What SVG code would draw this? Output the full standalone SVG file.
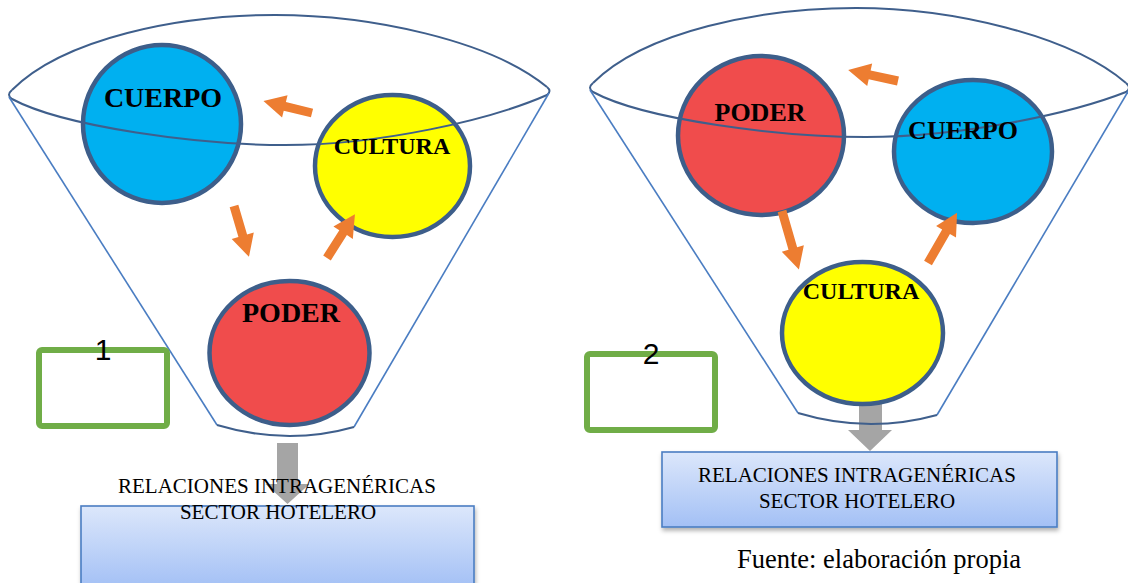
<svg xmlns="http://www.w3.org/2000/svg" width="1128" height="583" viewBox="0 0 1128 583">
  <style>
    .circle { stroke: #3D5E8A; stroke-width: 4.5; }
    .blue { fill: #00B0F0; }
    .yellow { fill: #FFFF00; }
    .red { fill: #F04C4C; }
    .lbl { font-family: "Liberation Serif", "Times New Roman", serif; font-weight: bold; fill: #000; text-anchor: middle; }
    .rim { fill: none; stroke: #3F5F8C; stroke-width: 2; stroke-linejoin: round; }
    .side { fill: none; stroke: #4A7DC2; stroke-width: 1.6; }
    .oarr { fill: #ED7D31; }
    .garr { fill: #A5A5A5; }
    .gbox { fill: #FFFFFF; stroke: #70AD47; stroke-width: 6; }
    .num { font-family: "Liberation Sans", Arial, sans-serif; font-size: 30px; fill: #000; text-anchor: middle; }
    .result { fill: url(#boxGrad); stroke: #4A7DC2; stroke-width: 1.6; filter: url(#shadow); }
    .rtxt { font-family: "Liberation Serif", "Times New Roman", serif; font-size: 21px; fill: #000; text-anchor: middle; }
    .src { font-family: "Liberation Serif", "Times New Roman", serif; font-size: 26.5px; fill: #000; text-anchor: middle; }
  </style>
  <defs>
    <linearGradient id="boxGrad" x1="0" y1="0" x2="0" y2="1">
      <stop offset="0" stop-color="#DCE7FB"/>
      <stop offset="1" stop-color="#A3C0F5"/>
    </linearGradient>
    <filter id="shadow" x="-5%" y="-10%" width="110%" height="130%">
      <feDropShadow dx="1" dy="3" stdDeviation="2" flood-color="#000" flood-opacity="0.3"/>
    </filter>
  </defs>

  <!-- Funnel 1 -->
  <g id="funnel1">
    <!-- output arrow below the funnel -->
    <path class="garr" d="M277 443 H298 V484 H309.5 L287.5 504 L265.5 484 H277 Z"/>
    <g id="cuerpo1">
      <circle class="circle blue" cx="162" cy="124" r="79"/>
    </g>
    <g id="cultura1">
      <ellipse class="circle yellow" cx="392.5" cy="166" rx="77.5" ry="71"/>
    </g>
    <g id="poder1">
      <ellipse class="circle red" cx="289.5" cy="353" rx="80" ry="72"/>
    </g>
    <path class="rim" d="M12 90 C64 38 180 15 275 15 C370 15 490 40 547 87"/>
    <path class="rim" d="M12 90 Q6 95 12 99 C64 127 200 145 285 145 C380 145 490 120 547 95 Q552 91 547 87"/>
    <path class="side" d="M9 97 L217 425"/>
    <path class="side" d="M549 93 L354 427"/>
    <path class="rim" d="M217 425 Q287 446 354 427"/>
    <text class="lbl" x="163" y="107" font-size="28">CUERPO</text>
    <text class="lbl" x="392" y="154" font-size="24">CULTURA</text>
    <text class="lbl" x="291" y="322" font-size="28">PODER</text>
  </g>

  <!-- Funnel 2 -->
  <g id="funnel2">
    <path class="garr" d="M859 395 H882 V430 H892 L870 451 L848 430 H859 Z"/>
    <g id="poder2">
      <ellipse class="circle red" cx="761" cy="135.5" rx="83" ry="79.5"/>
    </g>
    <g id="cuerpo2">
      <ellipse class="circle blue" cx="973" cy="151.5" rx="79" ry="71.5"/>
    </g>
    <g id="cultura2">
      <ellipse class="circle yellow" cx="862.5" cy="333" rx="80.5" ry="71"/>
    </g>
    <path class="rim" d="M593 83 C645 31 761 8 856 8 C951 8 1070 35 1126 83"/>
    <path class="rim" d="M593 83 Q587 88 593 92 C645 120 781 137 866 137 C961 137 1070 114 1126 92 Q1132 88 1126 83"/>
    <path class="side" d="M590 90 L798 413"/>
    <path class="side" d="M1129 90 L937 415"/>
    <path class="rim" d="M798 413 Q868 434 937 415"/>
    <text class="lbl" x="760" y="121" font-size="26">PODER</text>
    <text class="lbl" x="963" y="139" font-size="26">CUERPO</text>
    <text class="lbl" x="861" y="299" font-size="24">CULTURA</text>
  </g>

  <!-- Flow arrows between the three factors -->
  <g id="connectors">
    <path class="oarr" d="M0 -4.5 H28 V-11.5 L50 0 L28 11.5 V4.5 H0 Z" transform="translate(312 113) rotate(193.8)"/>
    <path class="oarr" d="M0 -4.5 H31 V-11.5 L53 0 L31 11.5 V4.5 H0 Z" transform="translate(234 206) rotate(73.6)"/>
    <path class="oarr" d="M0 -4.5 H30 V-11.5 L52 0 L30 11.5 V4.5 H0 Z" transform="translate(327 258) rotate(-57.5)"/>
    <path class="oarr" d="M0 -4.5 H29 V-11.5 L51 0 L29 11.5 V4.5 H0 Z" transform="translate(898 81) rotate(192.4)"/>
    <path class="oarr" d="M0 -4.5 H39 V-11.5 L61 0 L39 11.5 V4.5 H0 Z" transform="translate(782 211) rotate(73.9)"/>
    <path class="oarr" d="M0 -4.5 H36 V-11.5 L58 0 L36 11.5 V4.5 H0 Z" transform="translate(928 263) rotate(-59.9)"/>
  </g>

  <!-- Numbered markers -->
  <g id="marker1">
    <rect class="gbox" x="39" y="350" width="128" height="76" rx="3"/>
    <text class="num" x="103" y="360">1</text>
  </g>
  <g id="marker2">
    <rect class="gbox" x="587" y="354" width="128" height="76" rx="3"/>
    <text class="num" x="651" y="364">2</text>
  </g>

  <!-- Result boxes -->
  <g id="result1">
    <rect class="result" x="81" y="506" width="393" height="82"/>
    <text class="rtxt" x="277" y="493">RELACIONES INTRAGENÉRICAS</text>
    <text class="rtxt" x="278" y="519">SECTOR HOTELERO</text>
  </g>
  <g id="result2">
    <rect class="result" x="662" y="452" width="395" height="75"/>
    <text class="rtxt" x="857" y="482">RELACIONES INTRAGENÉRICAS</text>
    <text class="rtxt" x="857" y="508">SECTOR HOTELERO</text>
  </g>

  <text id="source" class="src" x="879" y="568">Fuente: elaboración propia</text>
</svg>
